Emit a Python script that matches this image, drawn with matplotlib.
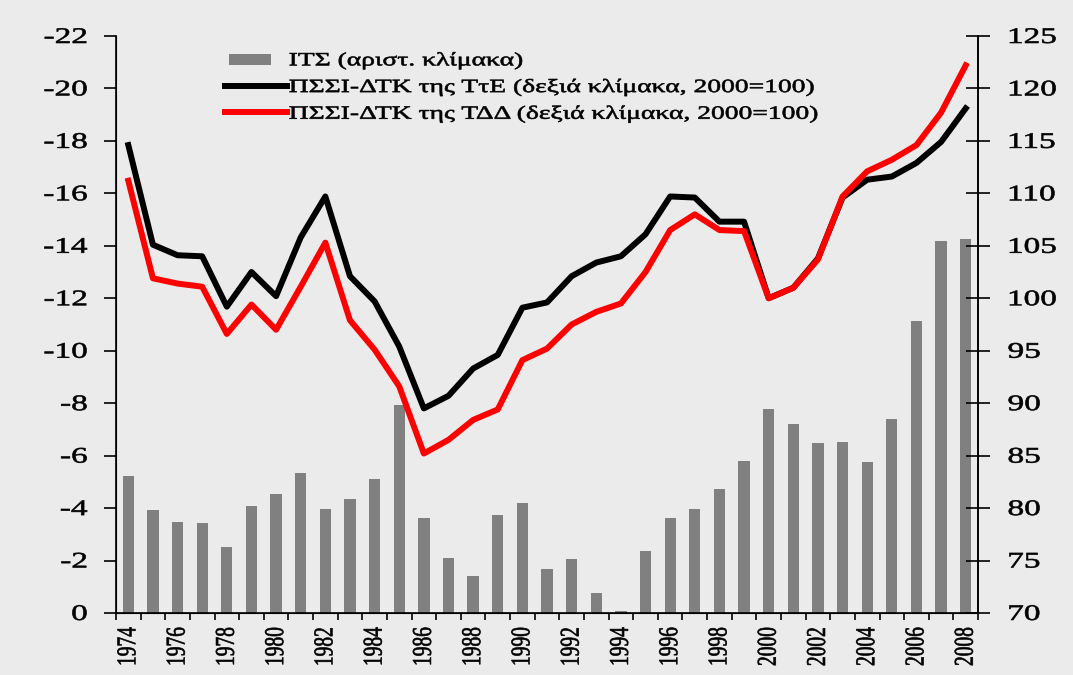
import matplotlib
matplotlib.use("Agg")
import matplotlib.pyplot as plt
from matplotlib.patches import Patch, Rectangle
from matplotlib.lines import Line2D
from matplotlib.ticker import FixedLocator, FuncFormatter
from matplotlib.patheffects import AbstractPathEffect
from matplotlib.transforms import Affine2D
from matplotlib.legend_handler import HandlerPatch

plt.rcParams['axes.unicode_minus'] = False
plt.rcParams['font.family'] = ['Liberation Serif', 'DejaVu Serif']

years = list(range(1974, 2009))
its = [-5.24, -3.92, -3.48, -3.43, -2.51, -4.06, -4.54, -5.33, -3.97, -4.36,
       -5.11, -7.94, -3.61, -2.11, -1.40, -3.74, -4.19, -1.67, -2.06, -0.75,
       -0.08, -2.38, -3.61, -3.97, -4.72, -5.81, -7.77, -7.20, -6.49, -6.53,
       -5.74, -7.40, -11.14, -14.17, -14.25]
psi_tte = [114.6, 105.1, 104.1, 104.0, 99.2, 102.5, 100.2, 105.8, 109.7, 102.1,
           99.7, 95.4, 89.5, 90.7, 93.3, 94.6, 99.1, 99.6, 102.1, 103.4,
           104.0, 106.1, 109.7, 109.6, 107.3, 107.3, 100.0, 101.0, 103.8, 109.6,
           111.3, 111.6, 112.9, 114.9, 118.1]
psi_tdd = [111.2, 101.9, 101.4, 101.1, 96.6, 99.4, 97.0, 101.1, 105.3, 97.9,
           95.1, 91.6, 85.2, 86.5, 88.4, 89.4, 94.1, 95.2, 97.5, 98.7,
           99.5, 102.5, 106.5, 108.0, 106.5, 106.4, 100.0, 101.0, 103.7, 109.7,
           112.1, 113.2, 114.6, 117.7, 122.2]

labels = ["ΙΤΣ (αριστ. κλίμακα)",
          "ΠΣΣΙ-ΔΤΚ της ΤτΕ (δεξιά κλίμακα, 2000=100)",
          "ΠΣΣΙ-ΔΤΚ της ΤΔΔ (δεξιά κλίμακα, 2000=100)"]


class StretchX(AbstractPathEffect):
    """Stretch drawn text horizontally (display x) around an anchor fraction,
    with a thin outline in the text colour for a heavier look."""
    def __init__(self, sx, frac, lw=0.45):
        super().__init__()
        self.sx = sx
        self.frac = frac
        self.lw = lw

    def draw_path(self, renderer, gc, tpath, affine, rgbFace=None):
        ext = tpath.transformed(affine).get_extents()
        a = ext.x0 + self.frac * (ext.x1 - ext.x0)
        t = affine + Affine2D().translate(-a, 0).scale(self.sx, 1).translate(a, 0)
        gc0 = renderer.new_gc()
        gc0.copy_properties(gc)
        if rgbFace is not None:
            gc0.set_foreground(rgbFace)
        gc0.set_linewidth(self.lw)
        renderer.draw_path(gc0, tpath, t, rgbFace)
        gc0.restore()


bg = '#ebebeb'
bar_color = '#808080'
fig = plt.figure(figsize=(10.73, 6.75), dpi=100, facecolor=bg)
ax = fig.add_axes([0.1081, 0.0919, 0.8034, 0.8548])
ax.set_facecolor(bg)
x = list(range(len(years)))
ax.bar(x, its, width=0.46, color=bar_color, zorder=2)
ax.set_xlim(-0.5, len(years) - 0.5)
ax.set_ylim(0, -22)
ax.set_yticks(list(range(0, -23, -2)))
ax.yaxis.set_major_formatter(FuncFormatter(lambda v, p: f"{int(round(v))}"))
ax.tick_params(axis='y', direction='out', length=8.6, width=1.2, pad=12, labelsize=16)

ax.xaxis.set_major_locator(FixedLocator([i - 0.5 for i in range(len(years) + 1)]))
ax.xaxis.set_minor_locator(FixedLocator(x[::2]))
ax.set_xticklabels([])
ax.set_xticklabels([str(y) for y in years[::2]], minor=True, rotation=90)
ax.tick_params(axis='x', which='major', direction='out', length=5, width=1.2)
ax.tick_params(axis='x', which='minor', length=0, pad=10, labelsize=14)
ax.spines['top'].set_visible(False)
for s in ['left', 'bottom', 'right']:
    ax.spines[s].set_linewidth(1.2)

ax2 = ax.twinx()
ax2.plot(x, psi_tte, color='black', lw=4.3, zorder=3, solid_joinstyle='round')
ax2.plot(x, psi_tdd, color='#ff0000', lw=4.3, zorder=4, solid_joinstyle='round')
ax2.set_ylim(70, 125)
ax2.set_yticks(list(range(70, 126, 5)))
ax2.tick_params(axis='y', direction='inout', length=17, width=1.2, pad=13, labelsize=16)
ax2.spines['top'].set_visible(False)
ax2.spines['right'].set_linewidth(1.2)


def small_patch(legend, orig_handle, xdescent, ydescent, width, height, fontsize):
    return Rectangle((-xdescent + 0.06 * width, -ydescent + 0.05 * height),
                     0.68 * width, 0.8 * height)


handles = [Patch(facecolor=bar_color, edgecolor='none'),
           Line2D([], [], color='black', lw=4.3),
           Line2D([], [], color='#ff0000', lw=4.3)]
leg = ax2.legend(handles, labels, loc='upper left', bbox_to_anchor=(0.118, 0.985),
                 frameon=False, fontsize=13.5, handlelength=3.3, handletextpad=0.1,
                 labelspacing=0.5, borderaxespad=0,
                 handler_map={Patch: HandlerPatch(patch_func=small_patch)})

fig.canvas.draw()
for t in ax.get_yticklabels():
    t.set_path_effects([StretchX(1.5, 1.0)])
for t in ax2.get_yticklabels():
    t.set_path_effects([StretchX(1.5, 0.0)])
for t in ax.get_xticklabels(minor=True):
    t.set_path_effects([StretchX(1.4, 0.5)])
for t in leg.get_texts():
    t.set_path_effects([StretchX(1.47, 0.0)])

fig.savefig('out.png', dpi=100, facecolor=bg)
